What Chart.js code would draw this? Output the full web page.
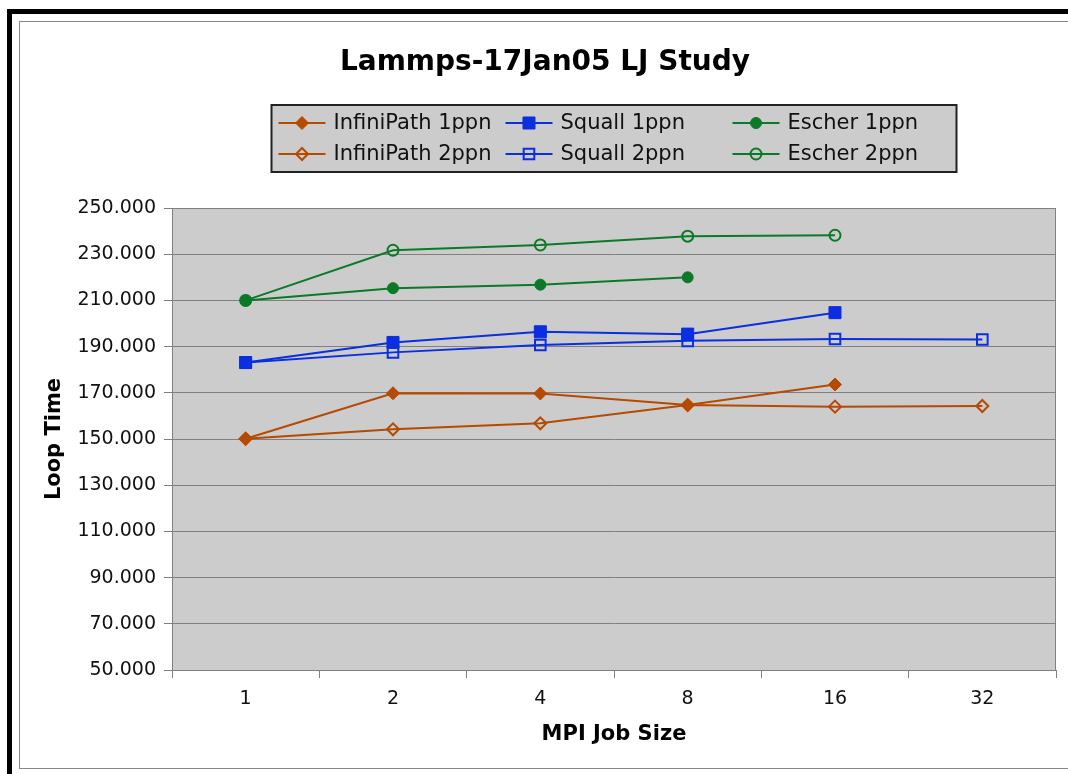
<!DOCTYPE html>
<html>
<head>
<meta charset="utf-8">
<script src="https://cdn.jsdelivr.net/npm/chart.js@4/dist/chart.umd.min.js"></script>
<style>
  html, body { margin: 0; padding: 0; background: #fff; overflow: hidden; }
  #outer { position: absolute; left: 7px; top: 9px; width: 1100px; height: 800px;
           border-left: 5px solid #000; border-top: 5px solid #000; }
  #inner { position: absolute; left: 19px; top: 21px; width: 1100px; height: 746px;
           border: 1px solid #888; }
  #wrap { position: absolute; left: 0; top: 0; width: 1068px; height: 774px; }
</style>
</head>
<body>
<div id="outer"></div>
<div id="inner"></div>
<div id="wrap"><canvas id="LoopTime_Canvasobj"></canvas></div>
<script>
var jobSizes = ['1', '2', '4', '8', '16', '32'];
var yTicks = [50, 70, 90, 110, 130, 150, 170, 190, 210, 230, 250];

var infiniPath1 = [150.1, 169.8, 169.7, 164.7, 173.6, null];
var squall1     = [183.1, 191.8, 196.4, 195.4, 204.7, null];
var escher1     = [210.0, 215.3, 216.8, 220.0, null, null];
var infiniPath2 = [150.1, 154.2, 156.8, 164.7, 164.0, 164.3];
var squall2     = [183.1, 187.5, 190.7, 192.5, 193.3, 193.1];
var escher2     = [210.0, 231.7, 234.0, 237.8, 238.2, null];

const colIP = '#b54a00';
const colSQ = '#0a2ee0';
const colES = '#0a7a28';

Chart.defaults.font.family = '"DejaVu Sans", Verdana, sans-serif';
Chart.defaults.color = '#111';

function series(label, data, color, style, radius, filled) {
  return {
    label: label,
    data: data,
    borderColor: color,
    backgroundColor: filled ? color : 'rgba(0,0,0,0)',
    pointBorderColor: color,
    pointBackgroundColor: filled ? color : 'rgba(0,0,0,0)',
    pointStyle: style,
    pointRadius: radius,
    pointHoverRadius: radius,
    pointBorderWidth: filled ? 1 : 2,
    borderWidth: 2,
    tension: 0,
    fill: false,
    spanGaps: false
  };
}

// plot background + frame
const plotFrame = {
  id: 'plotFrame',
  beforeDraw(chart) {
    const a = chart.chartArea, ctx = chart.ctx;
    ctx.save();
    ctx.fillStyle = '#cccccc';
    ctx.fillRect(a.left, a.top, a.right - a.left, a.bottom - a.top);
    ctx.restore();
  },
  afterDatasetsDraw(chart) {
    const a = chart.chartArea, ctx = chart.ctx;
    ctx.save();
    ctx.strokeStyle = '#808080';
    ctx.lineWidth = 1;
    ctx.strokeRect(a.left + 0.5, a.top + 0.5, a.right - a.left - 1, a.bottom - a.top);
    ctx.restore();
  }
};

function drawMarker(ctx, ds, x, y) {
  ctx.save();
  ctx.lineWidth = ds.pointBorderWidth;
  ctx.strokeStyle = ds.pointBorderColor;
  ctx.fillStyle = ds.pointBackgroundColor;
  const r = ds.pointRadius;
  ctx.beginPath();
  if (ds.pointStyle === 'circle') {
    ctx.arc(x, y, r, 0, Math.PI * 2);
  } else if (ds.pointStyle === 'rect') {
    const s = r * Math.SQRT1_2;
    ctx.rect(x - s, y - s, 2 * s, 2 * s);
  } else {
    ctx.moveTo(x, y - r); ctx.lineTo(x + r, y); ctx.lineTo(x, y + r); ctx.lineTo(x - r, y);
    ctx.closePath();
  }
  ctx.fill();
  ctx.stroke();
  ctx.restore();
}

// three-column legend, two rows
const boxLegend = {
  id: 'boxLegend',
  afterDraw(chart) {
    const ctx = chart.ctx, a = chart.chartArea;
    const w = 685, h = 67, top = 105;
    const left = (a.left + a.right) / 2 - w / 2;
    ctx.save();
    ctx.fillStyle = '#cccccc';
    ctx.fillRect(left, top, w, h);
    ctx.strokeStyle = '#222';
    ctx.lineWidth = 2;
    ctx.strokeRect(left, top, w, h);
    const colX = [7, 234, 461];
    const rowY = [18, 49];
    ctx.font = '21px "DejaVu Sans", Verdana, sans-serif';
    ctx.textBaseline = 'middle';
    ctx.textAlign = 'left';
    chart.data.datasets.forEach(function (ds, i) {
      const x0 = left + colX[i % 3];
      const y0 = top + rowY[Math.floor(i / 3)];
      ctx.strokeStyle = ds.borderColor;
      ctx.lineWidth = 2;
      ctx.beginPath();
      ctx.moveTo(x0, y0); ctx.lineTo(x0 + 47, y0);
      ctx.stroke();
      drawMarker(ctx, ds, x0 + 23.5, y0);
      ctx.fillStyle = '#111';
      ctx.fillText(ds.label, x0 + 55, y0 + 1);
    });
    ctx.restore();
  }
};

const config_looptime = {
  type: 'line',
  data: {
    labels: jobSizes,
    datasets: [
      series('InfiniPath 1ppn', infiniPath1, colIP, 'rectRot', 6.5, true),
      series('Squall 1ppn', squall1, colSQ, 'rect', 8.5, true),
      series('Escher 1ppn', escher1, colES, 'circle', 5.5, true),
      series('InfiniPath 2ppn', infiniPath2, colIP, 'rectRot', 6, false),
      series('Squall 2ppn', squall2, colSQ, 'rect', 7.5, false),
      series('Escher 2ppn', escher2, colES, 'circle', 5.5, false)
    ]
  },
  options: {
    responsive: false,
    animation: false,
    devicePixelRatio: 1,
    layout: { padding: { left: 34, right: 12, top: 0, bottom: 0 } },
    plugins: {
      legend: { display: false },
      tooltip: { enabled: false },
      title: {
        display: true,
        text: 'Lammps-17Jan05 LJ Study',
        color: '#000',
        font: { size: 28, weight: 'bold' },
        padding: { top: 46, bottom: 128.4 }
      }
    },
    scales: {
      x: {
        offset: true,
        grid: { offset: true, drawOnChartArea: false, drawTicks: true, tickLength: 8, color: '#808080' },
        border: { color: '#808080' },
        ticks: { font: { size: 19 }, color: '#111', padding: 10 },
        title: {
          display: true,
          text: 'MPI Job Size',
          color: '#000',
          font: { size: 21, weight: 'bold' },
          padding: { top: 0, bottom: 26.5 }
        },
        afterFit(scale) { scale.height = 104; }
      },
      y: {
        min: 50,
        max: 250,
        afterBuildTicks(scale) { scale.ticks = yTicks.map(function (v) { return { value: v }; }); },
        grid: { color: '#808080', tickLength: 8, drawTicks: true },
        border: { color: '#808080' },
        ticks: {
          font: { size: 19 },
          color: '#111',
          padding: 8,
          callback: function (v) { return Number(v).toFixed(3); }
        },
        title: {
          display: true,
          text: 'Loop Time',
          color: '#000',
          font: { size: 21, weight: 'bold' },
          padding: { top: 8.4, bottom: 0 }
        },
        afterFit(scale) { scale.width = 138; }
      }
    }
  },
  plugins: [plotFrame, boxLegend]
};

const canvas = document.getElementById('LoopTime_Canvasobj');
canvas.width = 1068;
canvas.height = 774;
const ChartLoopTime = new Chart(canvas, config_looptime);
</script>
</body>
</html>
